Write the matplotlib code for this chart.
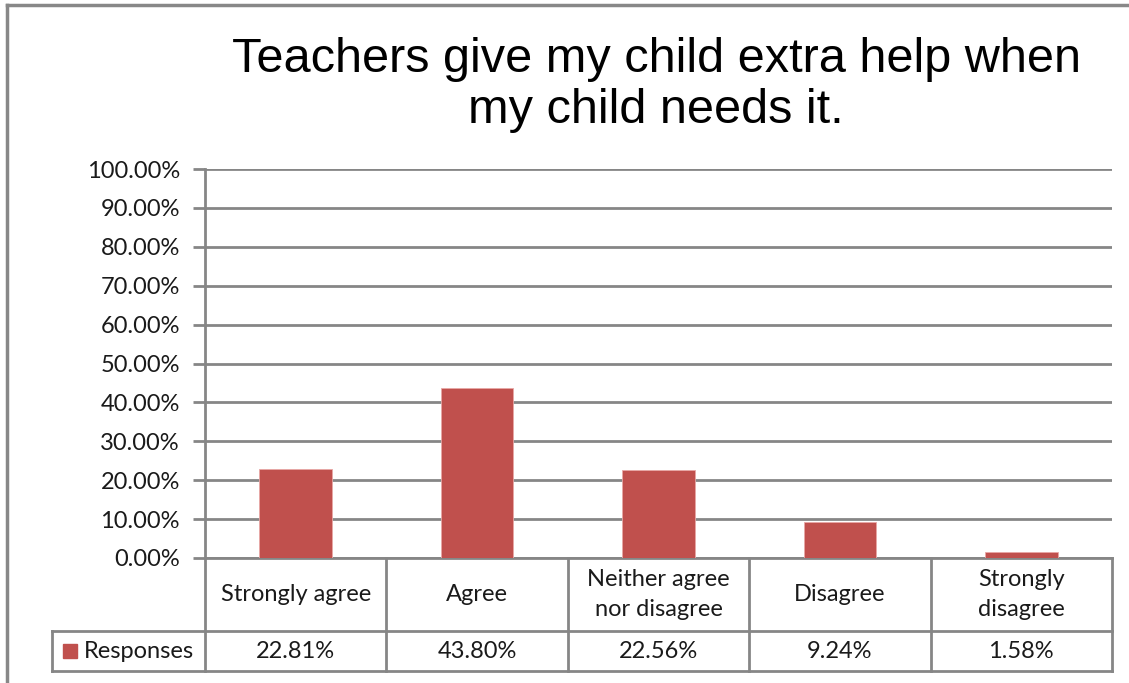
import matplotlib
matplotlib.use("Agg")
import matplotlib.pyplot as plt
from matplotlib.lines import Line2D

# data
categories = ["Strongly agree", "Agree", "Neither agree\nnor disagree", "Disagree", "Strongly\ndisagree"]
responses = [22.81, 43.80, 22.56, 9.24, 1.58]
value_labels = ["22.81%", "43.80%", "22.56%", "9.24%", "1.58%"]
series_name = "Responses"
y_ticks = [0, 10, 20, 30, 40, 50, 60, 70, 80, 90, 100]
title = "Teachers give my child extra help when\nmy child needs it."

W, H = 1129, 683
bar_color = "#C0504D"
line_gray = "#868686"
body_font = ["Lato", "DejaVu Sans"]
fs = 17

fig = plt.figure(figsize=(W / 100, H / 100), dpi=100)
fig.patch.set_facecolor("white")

# plot area in pixels: x 205..1112, y 169..558
ax = fig.add_axes([205 / W, 1 - 558 / H, (1112 - 205) / W, (558 - 169) / H])
x = list(range(len(categories)))
ax.bar(x, responses, width=0.4, color=bar_color, edgecolor="#E8A7A5", linewidth=0.6, zorder=3)
ax.set_xlim(-0.5, len(categories) - 0.5)
ax.set_ylim(0, 100)
ax.set_yticks(y_ticks)
ax.set_yticklabels([f"{v:.2f}%" for v in y_ticks], fontsize=fs, family=body_font, color="#1a1a1a")
ax.set_xticks([])
ax.yaxis.grid(True, color=line_gray, linewidth=2, zorder=0)
ax.tick_params(axis="y", length=9, width=2, color=line_gray, pad=9)
for s in ["top", "right"]:
    ax.spines[s].set_visible(False)
for s in ["left", "bottom"]:
    ax.spines[s].set_color(line_gray)
    ax.spines[s].set_linewidth(2)

# data table under the plot
tr = ax.get_xaxis_transform()
col_w_px = (1112 - 205) / len(categories)
ax_h_px = 558 - 169
row1 = -(631 - 558) / ax_h_px
row2 = -(671 - 558) / ax_h_px
left_cell = -0.5 - (205 - 52) / col_w_px
kw = dict(transform=tr, color=line_gray, linewidth=2, clip_on=False)
for b in [i - 0.5 for i in range(len(categories) + 1)]:
    ax.add_line(Line2D([b, b], [0, row2], **kw))
ax.add_line(Line2D([left_cell, len(categories) - 0.5], [row1, row1], **kw))
ax.add_line(Line2D([left_cell, len(categories) - 0.5], [row2, row2], **kw))
ax.add_line(Line2D([left_cell, left_cell], [row1, row2], **kw))

for i, (cat, val) in enumerate(zip(categories, value_labels)):
    ax.text(i, row1 / 2, cat, transform=tr, ha="center", va="center",
            fontsize=fs, family=body_font, color="#1a1a1a", linespacing=1.5)
    ax.text(i, (row1 + row2) / 2, val, transform=tr, ha="center", va="center",
            fontsize=fs, family=body_font, color="#1a1a1a")

sq_x = -0.5 - (205 - 70) / col_w_px
txt_x = -0.5 - (205 - 84) / col_w_px
ax.plot([sq_x], [(row1 + row2) / 2], marker="s", markersize=10.5, color=bar_color,
        transform=tr, clip_on=False, linestyle="")
ax.text(txt_x, (row1 + row2) / 2, series_name, transform=tr, ha="left", va="center",
        fontsize=fs, family=body_font, color="#1a1a1a")

# title
fig.text(656 / W, 1 - 85 / H, title, ha="center", va="center", fontsize=35,
         family=["Liberation Sans"], color="black", linespacing=1.15)

# chart border (top and left visible)
fig.add_artist(Line2D([7 / W, 7 / W], [0, 1 - 5 / H], transform=fig.transFigure, color="#888888", linewidth=2.5))
fig.add_artist(Line2D([7 / W, 1], [1 - 5 / H, 1 - 5 / H], transform=fig.transFigure, color="#888888", linewidth=2.5))

fig.savefig("out.png", dpi=100)
